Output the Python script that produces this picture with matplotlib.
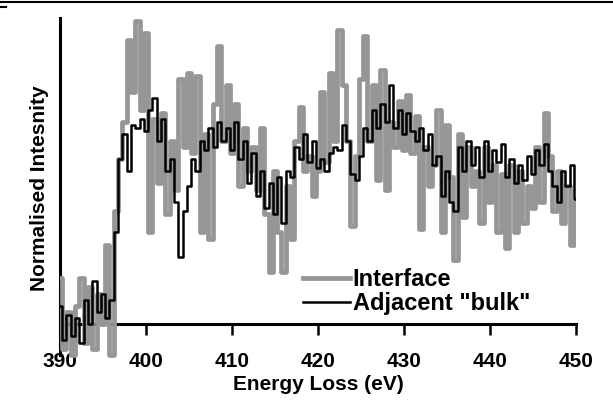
import numpy as np
import matplotlib.pyplot as plt
from matplotlib.lines import Line2D

plt.rcParams['font.family'] = ['Liberation Sans', 'DejaVu Sans']
plt.rcParams['font.weight'] = 'bold'

energy = np.arange(390, 450.01, 0.5)

interface = [15, -8, 4, -10, 6, 15, -6, 12, -8, 10,
             0, 26, -10, 37, 54, 66, 93, 76, 99, 70,
             95, 30, 67, 46, 69, 36, 60, 44, 80, 58,
             82, 56, 81, 30, 62, 28, 72, 91, 60, 78,
             56, 72, 45, 64, 50, 58, 44, 64, 36, 17,
             50, 30, 17, 45, 28, 60, 71, 50, 55, 42,
             50, 76, 53, 82, 60, 96, 78, 60, 32, 55,
             80, 94, 60, 78, 47, 83, 44, 66, 58, 73,
             57, 75, 56, 68, 31, 58, 45, 52, 70, 30,
             65, 48, 21, 62, 35, 58, 45, 50, 33, 58,
             40, 52, 30, 49, 25, 52, 30, 50, 33, 45,
             38, 58, 40, 69, 55, 37, 50, 33, 45, 26,
             40]

bulk = [6, -5, 3, -4, 2, -6, 8, 0, 14, 4,
        10, 2, 8, 30, 54, 62, 50, 65, 64, 67,
        63, 70, 74, 60, 67, 50, 54, 40, 22, 37,
        45, 54, 50, 60, 57, 64, 58, 66, 60, 64,
        57, 66, 54, 60, 46, 56, 42, 50, 38, 46,
        36, 48, 33, 50, 48, 58, 54, 62, 53, 60,
        51, 54, 50, 56, 58, 57, 65, 60, 49, 47,
        55, 64, 60, 70, 64, 72, 66, 78, 64, 70,
        62, 69, 63, 60, 64, 57, 62, 52, 55, 42,
        50, 40, 37, 58, 50, 60, 52, 58, 48, 60,
        50, 57, 53, 59, 48, 54, 46, 52, 47, 55,
        49, 57, 52, 59, 50, 45, 40, 50, 45, 52,
        41]

xticks = [390, 400, 410, 420, 430, 440, 450]

fig = plt.figure(figsize=(6.13, 4.05), dpi=100)
ax = fig.add_axes([60/613, 41/405, 516/613, 352/405])

ax.plot(energy, interface, drawstyle='steps-mid', color='#969696', lw=3.4,
        label='Interface', zorder=3)
ax.plot(energy, bulk, drawstyle='steps-mid', color='black', lw=1.8,
        label='Adjacent "bulk"', zorder=4)

ax.set_xlim(390, 450)
ax.set_ylim(-13, 102)

ax.spines['top'].set_visible(False)
ax.spines['right'].set_visible(False)
ax.spines['bottom'].set_position(('data', 0))
ax.spines['bottom'].set_bounds(390, 450)
ax.spines['bottom'].set_linewidth(2.2)
ax.spines['left'].set_bounds(-10, 100)
ax.spines['left'].set_linewidth(2.2)

ax.set_xticks(xticks)
ax.set_yticks([])
ax.tick_params(axis='x', direction='out', length=8, width=1.8, pad=12,
               labelsize=15)
ax.set_xlabel('Energy Loss (eV)', fontsize=15, fontweight='bold', labelpad=3)
ax.set_ylabel('Normalised Intesnity', fontsize=15, fontweight='bold', labelpad=8)

leg = ax.legend(loc='upper left', bbox_to_anchor=(303/613, 1 - 268/405),
                bbox_transform=fig.transFigure, frameon=False, fontsize=17,
                handlelength=2.0, handletextpad=0.1, labelspacing=0.05,
                borderpad=0, borderaxespad=0)
for t in leg.get_texts():
    t.set_fontweight('bold')

# frame line at the very top of the image
fig.add_artist(Line2D([0, 1], [1 - 2/405, 1 - 2/405], transform=fig.transFigure,
                      color='black', lw=1.5))
fig.add_artist(Line2D([0, 6/613], [1 - 7/405, 1 - 7/405], transform=fig.transFigure,
                      color='black', lw=1.5))

fig.savefig('out.png', dpi=100)
